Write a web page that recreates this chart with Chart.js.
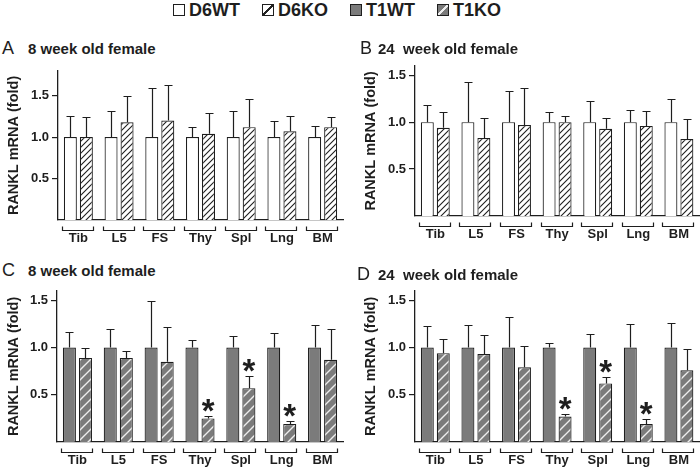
<!DOCTYPE html>
<html lang="en">
<head>
<meta charset="UTF-8" />
<title>RANKL mRNA (fold)</title>
<style>
  :root{--ink:#1e1e1e;--gray:#7b7b7b;}
  body{margin:0;width:700px;height:472px;background:#fff;position:relative;overflow:hidden;font-family:"Liberation Sans",Arial,sans-serif;color:var(--ink);}
  .panel{position:absolute;width:350px;}
  .ttl{position:absolute;white-space:pre;line-height:1;display:flex;align-items:baseline;}
  .ttl .let{font-size:18px;font-weight:400;}
  .ttl .sub{font-size:15px;font-weight:700;}
  #legend{position:absolute;left:173px;top:1px;display:flex;align-items:center;gap:22px;font-size:18px;font-weight:700;line-height:18px;}
  #legend span{display:flex;align-items:center;}
  #legend i{display:inline-block;width:12px;height:12px;border:1.2px solid var(--ink);margin-right:4px;box-sizing:border-box;}
</style>
<script src="https://cdn.jsdelivr.net/npm/chart.js"></script>
</head>
<body>
<div id="legend">
  <span><i style="background:#fff"></i>D6WT</span>
  <span><i style="background:linear-gradient(135deg,#fff 44%,#222 44%,#222 56%,#fff 56%)"></i>D6KO</span>
  <span><i style="background:var(--gray)"></i>T1WT</span>
  <span><i style="background:linear-gradient(135deg,#7b7b7b 44%,#eee 44%,#eee 56%,#7b7b7b 56%)"></i>T1KO</span>
</div>

<div class="panel" style="left:0;top:60px;height:190px"><canvas id="cA"></canvas></div>
<div class="panel" style="left:350px;top:55px;height:190px"><canvas id="cB"></canvas></div>
<div class="panel" style="left:0;top:280px;height:192px"><canvas id="cC"></canvas></div>
<div class="panel" style="left:350px;top:280px;height:192px"><canvas id="cD"></canvas></div>

<div class="ttl" style="left:2px;top:39px"><span class="let">A</span><span class="sub" style="margin-left:14px">8 week old female</span></div>
<div class="ttl" style="left:360px;top:39px"><span class="let">B</span><span class="sub" style="margin-left:6px">24  week old female</span></div>
<div class="ttl" style="left:2px;top:261px"><span class="let">C</span><span class="sub" style="margin-left:13px">8 week old female</span></div>
<div class="ttl" style="left:357px;top:265px"><span class="let">D</span><span class="sub" style="margin-left:8px">24  week old female</span></div>

<script>
/* ---- data ---- */
const labels = ['Tib','L5','FS','Thy','Spl','Lng','BM'];
const yTicks = [0.5, 1.0, 1.5];

// A: 8 week, D6
const aWT    = [1, 1, 1, 1, 1, 1, 1];
const aWTerr = [1.26, 1.31, 1.59, 1.12, 1.31, 1.19, 1.14];
const aKO    = [1.00, 1.18, 1.20, 1.04, 1.12, 1.07, 1.12];
const aKOerr = [1.24, 1.49, 1.63, 1.29, 1.46, 1.26, 1.24];

// B: 24 week, D6
const bWT    = [1, 1, 1, 1, 1, 1, 1];
const bWTerr = [1.18, 1.43, 1.33, 1.11, 1.22, 1.13, 1.25];
const bKO    = [0.94, 0.83, 0.97, 1.00, 0.93, 0.96, 0.82];
const bKOerr = [1.11, 1.04, 1.36, 1.07, 1.04, 1.12, 1.03];

// C: 8 week, T1
const cWT    = [1, 1, 1, 1, 1, 1, 1];
const cWTerr = [1.16, 1.20, 1.49, 1.08, 1.12, 1.15, 1.24];
const cKO    = [0.89, 0.89, 0.85, 0.25, 0.57, 0.19, 0.87];
const cKOerr = [0.99, 0.96, 1.22, 0.28, 0.70, 0.22, 1.20];
const cSig   = [0, 0, 0, 1, 1, 1, 0];

// D: 24 week, T1
const dWT    = [1, 1, 1, 1, 1, 1, 1];
const dWTerr = [1.23, 1.24, 1.32, 1.05, 1.14, 1.25, 1.26];
const dKO    = [0.94, 0.93, 0.79, 0.27, 0.62, 0.19, 0.76];
const dKOerr = [1.09, 1.13, 1.02, 0.30, 0.69, 0.24, 0.98];
const dSig   = [0, 0, 0, 1, 1, 1, 0];

/* ---- styles ---- */
const INK = '#1e1e1e', GRAY = '#7b7b7b';
const FAM = '"Liberation Sans", Arial, sans-serif';

function hatch(bg, fg, step, lw){
  const c = document.createElement('canvas'); c.width = c.height = step;
  const g = c.getContext('2d');
  g.fillStyle = bg; g.fillRect(0, 0, step, step);
  g.strokeStyle = fg; g.lineWidth = lw;
  g.beginPath();
  g.moveTo(-step, step*2); g.lineTo(step*2, -step);
  g.moveTo(-step, step); g.lineTo(step, -step);
  g.moveTo(0, step*2); g.lineTo(step*2, 0);
  g.stroke();
  return g.createPattern(c, 'repeat');
}
const hatchWhite = hatch('#fff', '#1e1e1e', 6, 1.1);
const hatchGray  = hatch(GRAY, '#eeeeee', 10, 1.4);

/* error bars, asterisks, category brackets */
const extras = {
  id: 'extras',
  afterDatasetsDraw(chart){
    const ctx = chart.ctx, y = chart.scales.y;
    ctx.save();
    ctx.strokeStyle = INK; ctx.fillStyle = INK; ctx.lineWidth = 1.2;
    chart.data.datasets.forEach((ds, di) => {
      chart.getDatasetMeta(di).data.forEach((bar, i) => {
        const bx = Math.round(bar.x) + 0.5, top = Math.round(y.getPixelForValue(ds.err[i])) + 0.5;
        ctx.beginPath();
        ctx.moveTo(bx, bar.y); ctx.lineTo(bx, top);
        ctx.moveTo(bx - 4, top); ctx.lineTo(bx + 4, top);
        ctx.stroke();
        if (ds.sig && ds.sig[i]) {
          ctx.font = 'bold 100px ' + FAM;
          let m = ctx.measureText('*');
          const size = 100 * 12.5 / (m.actualBoundingBoxAscent + m.actualBoundingBoxDescent);
          ctx.font = 'bold ' + size.toFixed(1) + 'px ' + FAM;
          m = ctx.measureText('*');
          ctx.textAlign = 'center'; ctx.textBaseline = 'alphabetic';
          ctx.fillText('*', bar.x, top - 5 - m.actualBoundingBoxDescent);
        }
      });
    });
    const m0 = chart.getDatasetMeta(0).data, m1 = chart.getDatasetMeta(1).data;
    const by = Math.round(chart.chartArea.bottom) + 10.5;
    m0.forEach((b, i) => {
      const l = Math.round(b.x - b.width/2) - 1.5, r = Math.round(m1[i].x + m1[i].width/2) + 0.5;
      ctx.beginPath();
      ctx.moveTo(l, by - 4); ctx.lineTo(l, by); ctx.lineTo(r, by); ctx.lineTo(r, by - 4);
      ctx.stroke();
    });
    ctx.restore();
  }
};

function panel(id, wt, wtErr, ko, koErr, sig, fillWT, fillKO, yMax, yW, xH, pad, titlePad){
  new Chart(document.getElementById(id), {
    type: 'bar',
    data: {
      labels: labels,
      datasets: [
        {data: wt, err: wtErr, backgroundColor: fillWT, borderColor: INK, borderWidth: 1.2,
         categoryPercentage: 0.786, barPercentage: 0.8125},
        {data: ko, err: koErr, sig: sig, backgroundColor: fillKO, borderColor: INK, borderWidth: 1.2,
         categoryPercentage: 0.786, barPercentage: 0.8125}
      ]
    },
    options: {
      responsive: true, maintainAspectRatio: false, animation: false,
      layout: {padding: pad},
      plugins: {legend: {display: false}, tooltip: {enabled: false}},
      scales: {
        x: {
          grid: {display: false, drawTicks: false},
          border: {display: true, color: INK, width: 1.3},
          ticks: {color: INK, font: {family: FAM, size: 13, weight: 'bold'}, padding: 11, maxRotation: 0, autoSkip: false},
          afterFit(s){ s.height = xH; }
        },
        y: {
          min: 0, max: yMax,
          afterBuildTicks(s){ s.ticks = yTicks.map(v => ({value: v})); },
          grid: {drawOnChartArea: false, tickLength: 6, color: INK, lineWidth: 1.2},
          border: {display: true, color: INK, width: 1.3},
          ticks: {color: INK, font: {family: FAM, size: 13, weight: 'bold'}, padding: 3,
                  callback: v => Number(v).toFixed(1)},
          title: {display: true, text: 'RANKL mRNA (fold)', color: INK,
                  font: {family: FAM, size: 14.5, weight: 'bold'}, padding: {top: titlePad, bottom: 0}},
          afterFit(s){ s.width = yW; }
        }
      }
    },
    plugins: [extras]
  });
}

panel('cA', aWT, aWTerr, aKO, aKOerr, null, '#fff', hatchWhite, 1.8, 58, 30, {top: 7, right: 7, bottom: 0, left: 0}, 5);
panel('cB', bWT, bWTerr, bKO, bKOerr, null, '#fff', hatchWhite, 1.6, 65, 29, {top: 8, right: 0, bottom: 0, left: 0}, 12);
panel('cC', cWT, cWTerr, cKO, cKOerr, cSig, GRAY, hatchGray, 1.6, 57, 30, {top: 8, right: 7, bottom: 0, left: 0}, 5);
panel('cD', dWT, dWTerr, dKO, dKOerr, dSig, GRAY, hatchGray, 1.6, 65, 30, {top: 9, right: 0, bottom: 0, left: 0}, 12);
</script>
</body>
</html>
